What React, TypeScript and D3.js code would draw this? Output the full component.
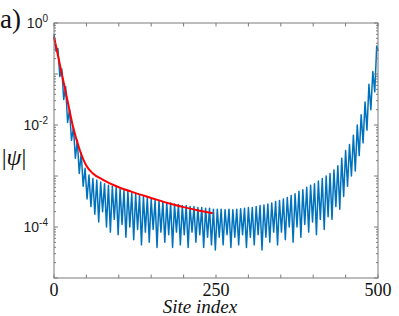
import { useEffect, useRef } from "react";
import * as d3 from "d3";

// log10 |psi|, every 3 sites (0..498) plus the last site 500
const blueLog = [
  -0.22, -0.55, -0.5, -1.05, -0.9, -1.5, -1.25, -1.95, -1.7, -2.3,
  -2.05, -2.65, -2.3, -2.95, -2.55, -3.2, -2.85, -3.45, -2.98, -3.6,
  -3.05, -3.75, -3.08, -3.9, -3.12, -3.7, -3.15, -4.0, -3.18, -4.1,
  -3.2, -3.85, -3.22, -4.15, -3.25, -3.95, -3.28, -4.2, -3.3, -4.0,
  -3.33, -4.25, -3.35, -4.05, -3.38, -4.35, -3.4, -4.1, -3.42, -4.3,
  -3.45, -4.05, -3.47, -4.4, -3.48, -4.1, -3.5, -4.3, -3.52, -4.15,
  -3.53, -4.4, -3.55, -4.1, -3.56, -4.35, -3.58, -4.15, -3.58, -4.4,
  -3.6, -4.1, -3.6, -4.3, -3.62, -4.15, -3.62, -4.4, -3.63, -4.2,
  -3.63, -4.35, -3.65, -4.45, -3.65, -4.2, -3.65, -4.35, -3.66, -4.15,
  -3.65, -4.4, -3.66, -4.2, -3.65, -4.35, -3.64, -4.15, -3.63, -4.4,
  -3.62, -4.2, -3.62, -4.35, -3.6, -4.15, -3.58, -4.45, -3.57, -4.2,
  -3.55, -4.3, -3.53, -4.1, -3.5, -4.35, -3.48, -4.1, -3.45, -4.25,
  -3.42, -4.0, -3.38, -4.3, -3.35, -4.0, -3.3, -4.2, -3.27, -3.95,
  -3.22, -4.1, -3.18, -3.9, -3.15, -4.15, -3.1, -3.85, -3.05, -4.05,
  -3.0, -3.8, -2.95, -3.85, -2.88, -3.6, -2.8, -3.65, -2.65, -3.4,
  -2.5, -3.2, -2.38, -3.0, -2.2, -2.9, -2.0, -2.6, -1.8, -2.35,
  -1.55, -2.1, -1.2, -1.7, -0.95, -1.35, -0.45, -0.55,
];

// fitted decay envelope (red)
const redSites = [0, 10, 20, 30, 40, 50, 60, 75, 100, 125, 150, 175, 200, 225, 245];
const redLog = [-0.27, -0.87, -1.47, -2.07, -2.5, -2.8, -2.95, -3.07, -3.22, -3.33, -3.43, -3.53, -3.61, -3.68, -3.73];

const xTicks = [0, 50, 100, 150, 200, 250, 300, 350, 400, 450, 500];
const xLabels = [0, 250, 500];
const yLabelExp = [0, -2, -4];

const W = 399;
const H = 316;
const margin = { top: 23, right: 21, bottom: 38, left: 54 };

const App = () => {
  const svgRef = useRef<SVGSVGElement>(null);

  useEffect(() => {
    if (!svgRef.current) return;
    const svg = d3.select(svgRef.current);
    svg.selectAll("*").remove();

    const x = d3
      .scaleLinear()
      .domain([0, 500])
      .range([margin.left, W - margin.right]);
    const y = d3
      .scaleLog()
      .domain([1e-5, 1])
      .range([H - margin.bottom, margin.top]);

    const blue = blueLog.map((v, i) => ({
      site: i < 167 ? i * 3 : 500,
      val: Math.pow(10, v),
    }));
    const red = redSites.map((s, i) => ({ site: s, val: Math.pow(10, redLog[i]) }));

    const line = d3
      .line<{ site: number; val: number }>()
      .x((d) => x(d.site))
      .y((d) => y(d.val));

    const x0 = x(0);
    const x1 = x(500);
    const y0 = y(1e-5);
    const y1 = y(1);
    const axisColor = "#7a7a7a";

    // data
    svg
      .append("path")
      .attr("d", line(blue))
      .attr("fill", "none")
      .attr("stroke", "#0072BD")
      .attr("stroke-width", 1.5)
      .attr("stroke-linejoin", "round");

    svg
      .append("path")
      .attr("d", line.curve(d3.curveMonotoneX)(red))
      .attr("fill", "none")
      .attr("stroke", "#FF0000")
      .attr("stroke-width", 2);

    // box
    svg
      .append("rect")
      .attr("x", x0)
      .attr("y", y1)
      .attr("width", x1 - x0)
      .attr("height", y0 - y1)
      .attr("fill", "none")
      .attr("stroke", axisColor)
      .attr("stroke-width", 1);

    // x ticks (top and bottom, inward)
    const xt = svg.append("g").attr("stroke", axisColor);
    xTicks.forEach((t) => {
      xt.append("line").attr("x1", x(t)).attr("x2", x(t)).attr("y1", y0).attr("y2", y0 - 3.5);
      xt.append("line").attr("x1", x(t)).attr("x2", x(t)).attr("y1", y1).attr("y2", y1 + 3.5);
    });

    // y ticks (left and right, inward)
    const yt = svg.append("g").attr("stroke", axisColor);
    y.ticks().forEach((t) => {
      const major = Math.abs(Math.log10(t) - Math.round(Math.log10(t))) < 1e-9;
      const len = major ? 4 : 2;
      yt.append("line").attr("x1", x0).attr("x2", x0 + len).attr("y1", y(t)).attr("y2", y(t));
      yt.append("line").attr("x1", x1).attr("x2", x1 - len).attr("y1", y(t)).attr("y2", y(t));
    });

    // x labels
    svg
      .append("g")
      .selectAll("text")
      .data(xLabels)
      .join("text")
      .attr("x", (d) => x(d))
      .attr("y", y0 + 18)
      .attr("text-anchor", "middle")
      .style("font-family", "'Liberation Serif', serif")
      .style("font-size", "18px")
      .attr("fill", "#111")
      .text((d) => d);

    // y labels 10^k, right-aligned against the axis
    const yl = svg
      .append("g")
      .style("font-family", "'Liberation Sans', Arial, sans-serif")
      .attr("fill", "#222");
    yLabelExp.forEach((d) => {
      const yy = y(Math.pow(10, d));
      const t = yl
        .append("text")
        .attr("x", 48)
        .attr("y", yy + 5)
        .attr("text-anchor", "end")
        .style("font-size", "14px");
      t.append("tspan").text("10");
      t.append("tspan")
        .attr("dy", -6)
        .style("font-size", "10px")
        .text(d === 0 ? "0" : `-${-d}`);
    });

    // axis titles
    svg
      .append("text")
      .attr("x", (x0 + x1) / 2 - 16)
      .attr("y", 313)
      .attr("text-anchor", "middle")
      .style("font-family", "'Liberation Serif', serif")
      .style("font-style", "italic")
      .style("font-size", "19px")
      .attr("fill", "#111")
      .text("Site index");

    svg
      .append("text")
      .attr("x", 14)
      .attr("y", 165)
      .attr("text-anchor", "middle")
      .style("font-family", "'Liberation Serif', serif")
      .style("font-size", "24px")
      .attr("fill", "#111")
      .html("|<tspan font-style='italic'>ψ</tspan>|");

    svg
      .append("text")
      .attr("x", 0)
      .attr("y", 28)
      .style("font-family", "'Liberation Serif', serif")
      .style("font-size", "27px")
      .attr("fill", "#111")
      .text("a)");
  }, []);

  return (
    <svg
      ref={svgRef}
      width={W}
      height={H}
      style={{ position: "absolute", left: 0, top: 0, background: "#fff" }}
    />
  );
};

export default App;
